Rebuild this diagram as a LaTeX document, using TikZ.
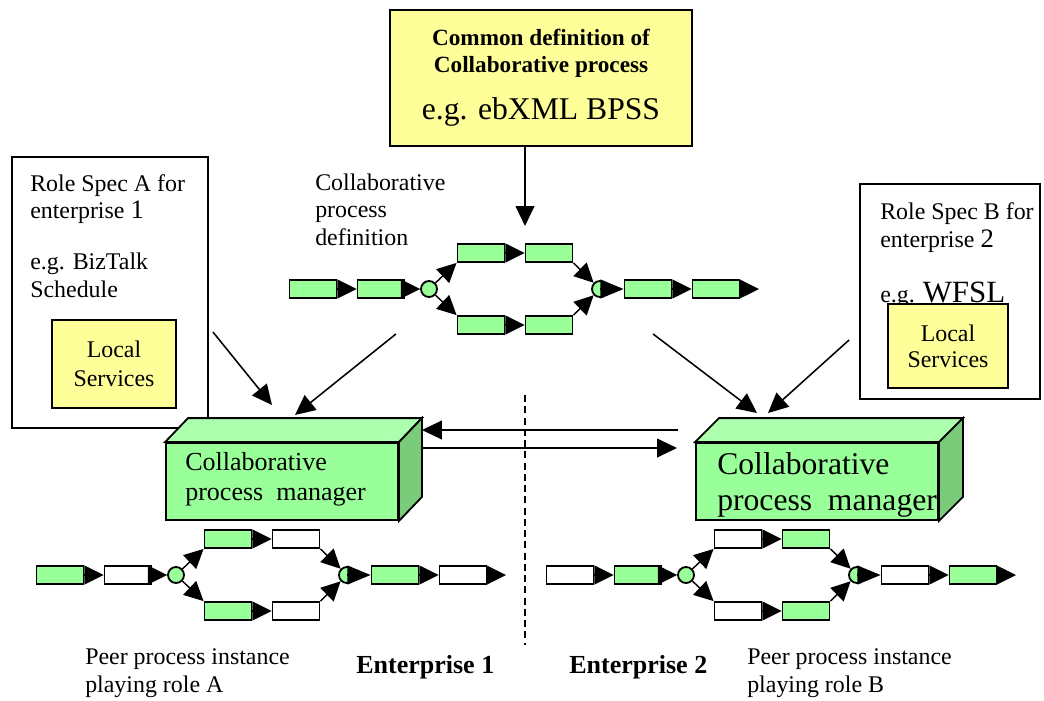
\documentclass[tikz,border=0pt]{standalone}
\usepackage{fontspec}
\setmainfont{Liberation Serif}
\usepackage{tikz}
\usetikzlibrary{arrows.meta,positioning}

\definecolor{act}{RGB}{153,255,153}
\definecolor{lid}{RGB}{172,255,172}
\definecolor{flank}{RGB}{122,204,122}
\definecolor{paper}{RGB}{255,255,153}

\begin{document}
\begin{tikzpicture}[x=0.025cm, y=-0.025cm,
    task/.style={draw, line width=1.3pt, minimum width=1.175cm, minimum height=0.45cm, inner sep=0pt},
    gate/.style={circle, draw, fill=act, line width=1.3pt, minimum size=0.4cm, inner sep=0pt},
    flow/.style={line width=1pt, -{Triangle[length=0.48cm, width=0.47cm]}},
    merge/.style={line width=1pt, -{Triangle[length=0.58cm, width=0.47cm]}},
    link/.style={line width=1.1pt, -{Triangle[length=0.5cm, width=0.47cm]}},
    spec/.style={draw, line width=1.3pt, fill=white},
    note/.style={draw, fill=paper, line width=1.5pt, align=center},
    cube/.style={draw, fill=act, line width=1.3pt, inner sep=0pt},
    face/.style={draw, line width=1.3pt},
    txt/.style={align=left, inner sep=0pt, font=\fontsize{17}{19.5}\selectfont}]

    \useasboundingbox (0,0) rectangle (1044,700);

    % Common definition on top
    \node[note, minimum width=7.55cm, minimum height=3.4cm, font=\bfseries\fontsize{16.5}{19}\selectfont] (common) at (541,78)
        {Common definition of\\Collaborative process\\[13.5pt]{\mdseries\fontsize{22.5}{26}\selectfont e.g. ebXML BPSS}};
    \node[txt, anchor=base west] (deftxt) at (315,245) {Collaborative\\process\\definition};

    % Role specs of the two enterprises
    \node[spec, minimum width=4.9cm, minimum height=6.775cm] (specA) at (110,292.5) {};
    \node[txt, anchor=base west] (specAtxt) at (30,297)
        {Role Spec A for\\enterprise {\fontsize{19}{19}\selectfont 1}\\[16.5pt]e.g. BizTalk\\Schedule};
    \node[note, minimum width=3.1cm, minimum height=2.2cm, font=\fontsize{17}{20.5}\selectfont] (svcA) at (114,364) {Local\\Services};

    \node[spec, minimum width=4.5cm, minimum height=5.375cm] (specB) at (950,291.5) {};
    \node[txt, anchor=base west] (specBtxt) at (880,302)
        {Role Spec B for\\enterprise {\fontsize{19}{19}\selectfont 2}\\[19.5pt]e.g. {\fontsize{22}{22}\selectfont WFSL}};
    \node[note, minimum width=3.0cm, minimum height=2.1cm, font=\fontsize{17}{18.5}\selectfont] (svcB) at (948,346) {Local\\Services};

    % Collaborative process managers
    \node[cube, minimum width=5.8cm, minimum height=1.925cm] (mgrA) at (282,481.5) {};
    \draw[face, fill=lid] (mgrA.north west) -- ++(23,-24) -- ([shift={(23,-24)}]mgrA.north east) -- (mgrA.north east) -- cycle;
    \draw[face, fill=flank] (mgrA.north east) -- ++(23,-24) -- ([shift={(23,-24)}]mgrA.south east) -- (mgrA.south east) -- cycle;
    \coordinate (mgrAside) at ([shift={(23,-24)}]mgrA.east);
    \node[txt, anchor=base west, font=\fontsize{18.5}{21.3}\selectfont] (mgrAtxt) at (185,500) {Collaborative\\process\ \ manager};

    \node[cube, minimum width=6.05cm, minimum height=1.925cm] (mgrB) at (817,481.5) {};
    \draw[face, fill=lid] (mgrB.north west) -- ++(24,-24) -- ([shift={(24,-24)}]mgrB.north east) -- (mgrB.north east) -- cycle;
    \draw[face, fill=flank] (mgrB.north east) -- ++(24,-24) -- ([shift={(24,-24)}]mgrB.south east) -- (mgrB.south east) -- cycle;
    \node[txt, anchor=base west, font=\fontsize{22.5}{25.5}\selectfont] (mgrBtxt) at (717,510) {Collaborative\\process\ \ manager};

    % Process chains: definition, instance A, instance B
    \foreach \lane/\cx/\cy/\fa/\fb in {P/289/289/act/act, A/36/575/act/white, B/546/575/white/act} {
        \begin{scope}[shift={(\cx,\cy)}]
            \node[task, fill=\fa] (\lane1) at (24,0) {};
            \node[task, fill=\fb] (\lane2) at (92,0) {};
            \node[gate] (\lane fork) at (140,0) {};
            \node[task, fill=\fa] (\lane3) at (192,-36) {};
            \node[task, fill=\fb] (\lane4) at (260,-36) {};
            \node[task, fill=\fa] (\lane5) at (192,36) {};
            \node[task, fill=\fb] (\lane6) at (260,36) {};
            \node[gate] (\lane join) at (311,0) {};
            \node[task, fill=\fa] (\lane7) at (359,0) {};
            \node[task, fill=\fb] (\lane8) at (427,0) {};
            \coordinate (\lane end) at (470,0);
            \draw[flow] (\lane1) -- (\lane2);
            \draw[flow] (\lane2) -- (\lane fork);
            \draw[flow] (\lane fork) -- (\lane3.south west);
            \draw[flow] (\lane fork) -- (\lane5.north west);
            \draw[flow] (\lane3) -- (\lane4);
            \draw[flow] (\lane5) -- (\lane6);
            \draw[flow] (\lane4.south east) -- (\lane join);
            \draw[flow] (\lane6.north east) -- (\lane join);
            \draw[merge] (\lane join.center) -- (\lane7);
            \draw[flow] (\lane7) -- (\lane8);
            \draw[flow] (\lane8) -- (\lane end);
        \end{scope}
    }

    % Inputs to the managers
    \coordinate (pin) at (525,226);
    \draw[link] (common.south -| pin) -- (pin);
    \coordinate (inA1) at (272,405);
    \coordinate (inA2) at (295,415);
    \coordinate (inB1) at (757,413);
    \coordinate (inB2) at (768,413);
    \draw[link] ([shift={(4,39.5)}]specA.east) -- (inA1);
    \draw[link] ([shift={(15,35)}]P2.south) -- (inA2);
    \draw[link] ([shift={(5,35)}]P7.south) -- (inB1);
    \draw[link] ([shift={(-10,48.5)}]specB.west) -- (inB2);

    % Messages between the managers
    \coordinate (ret) at (678,430);
    \coordinate (send) at (677,448);
    \draw[link] (ret) -- (ret -| mgrAside);
    \draw[link] (send -| mgrAside) -- (send);
    \draw[line width=1pt, dash pattern=on 5pt off 3pt] (525,395) -- (525,645);

    % Labels at the bottom
    \node[txt, anchor=base west] (peerA) at (85,692) {Peer process instance\\playing role A};
    \node[anchor=base west, inner sep=0pt, font=\bfseries\fontsize{18.5}{22}\selectfont] (entA) at (356,673) {Enterprise 1};
    \node[anchor=base west, inner sep=0pt, font=\bfseries\fontsize{18.5}{22}\selectfont] (entB) at (569,673) {Enterprise 2};
    \node[txt, anchor=base west] (peerB) at (747,692) {Peer process instance\\playing role B};

\end{tikzpicture}
\end{document}
